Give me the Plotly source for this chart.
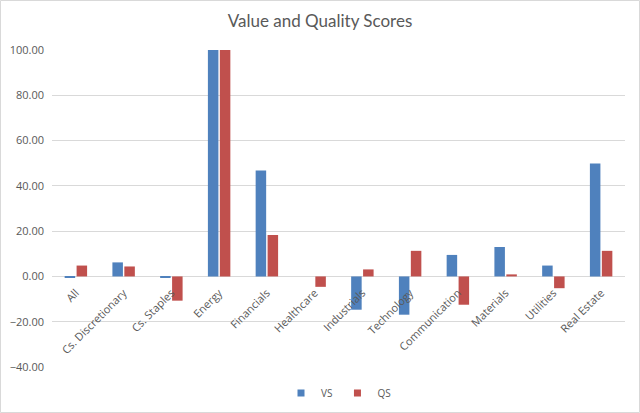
import plotly.graph_objects as go

categories = ["All", "Cs. Discretionary", "Cs. Staples", "Energy", "Financials", "Healthcare",
              "Industrials", "Technology", "Communication", "Materials", "Utilities", "Real Estate"]
vs_values = [-0.7, 6.2, -0.5, 100.0, 46.8, 0.0, -14.7, -16.9, 9.5, 13.0, 4.8, 49.9]
qs_values = [4.8, 4.4, -10.7, 100.0, 18.3, -4.6, 3.1, 11.3, -12.5, 0.9, -5.2, 11.3]
y_ticks = [-40, -20, 0, 20, 40, 60, 80, 100]

W, H = 640, 413
ml, mr, mt, mb = 52, 15, 50, 46
pw, ph = W - ml - mr, H - mt - mb
ymin, ymax = -40, 100
font = "'Open Sans', sans-serif"
tfont = "Lato, sans-serif"
gray = "#595959"
vs_color = "#4F81BD"
qs_color = "#C0504D"

fig = go.Figure()
fig.add_trace(go.Bar(name="VS", x=categories, y=vs_values, showlegend=False,
                     marker=dict(color=vs_color, line=dict(width=0))))
fig.add_trace(go.Bar(name="QS", x=categories, y=qs_values, showlegend=False,
                     marker=dict(color=qs_color, line=dict(width=0))))
# legend entries (no data points)
fig.add_trace(go.Scatter(name="VS", x=[None], y=[None], mode="markers",
                         marker=dict(symbol="square", size=7, color=vs_color)))
fig.add_trace(go.Scatter(name="QS", x=[None], y=[None], mode="markers",
                         marker=dict(symbol="square", size=7, color=qs_color)))

fig.update_layout(
    width=W, height=H,
    margin=dict(l=ml, r=mr, t=mt, b=mb, autoexpand=False),
    paper_bgcolor="white", plot_bgcolor="white",
    barmode="group", bargap=0.5, bargroupgap=0.12,
    font=dict(family=font, color=gray, size=10),
    title=dict(text="Value and Quality Scores", x=0.5, xanchor="center",
               y=1 - 21 / H, yanchor="middle", font=dict(size=17, color=gray, family=tfont)),
    showlegend=True,
    legend=dict(orientation="h", x=0.5, xanchor="center", y=-26 / ph, yanchor="middle",
                font=dict(size=10, color=gray), itemwidth=30, traceorder="normal",
                tracegroupgap=0),
    xaxis=dict(type="category", anchor="free", position=(0 - ymin) / (ymax - ymin),
               tickangle=-45, showgrid=False, showline=False, ticks="", zeroline=False,
               automargin=False, ticklabelstandoff=7, tickfont=dict(size=11, color=gray)),
    yaxis=dict(range=[ymin, ymax], tickvals=y_ticks, tickformat=".2f",
               showgrid=True, gridcolor="#D9D9D9", gridwidth=1, zeroline=True,
               zerolinecolor="#D9D9D9", zerolinewidth=1, showline=False, ticks="",
               automargin=False, ticklabelstandoff=7,
               tickfont=dict(size=11, color=gray)),
    shapes=[dict(type="rect", xref="paper", yref="paper",
                 x0=-(ml - 0.5) / pw, x1=1 + (mr - 0.5) / pw,
                 y0=-(mb - 0.5) / ph, y1=1 + (mt - 0.5) / ph,
                 line=dict(color="#D9D9D9", width=1))],
)

fig.write_html("out.html", config={"displayModeBar": False},
               post_script="document.body.style.margin='0';")
